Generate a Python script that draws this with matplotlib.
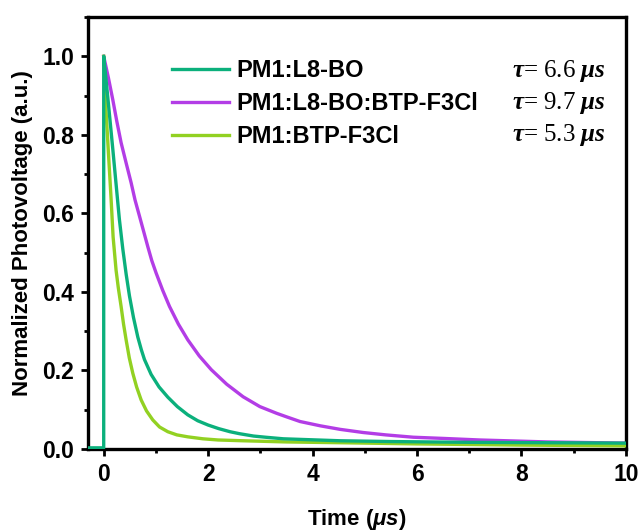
import matplotlib
matplotlib.use("Agg")
import matplotlib.pyplot as plt
from matplotlib.ticker import MultipleLocator

# --- Data (time in us, normalized photovoltage) ---
labels = ["PM1:L8-BO", "PM1:L8-BO:BTP-F3Cl", "PM1:BTP-F3Cl"]
taus = ["6.6", "9.7", "5.3"]
colors = ["#0bb07c", "#b33de6", "#92d122"]

t_l8bo = [-0.3, 0, 0, 0.06, 0.115, 0.173, 0.24, 0.30, 0.365, 0.43, 0.493,
          0.57, 0.653, 0.72, 0.78, 0.908, 1.06, 1.228, 1.41, 1.61, 1.8, 2.0,
          2.2, 2.42, 2.6, 2.87, 3.1, 3.44, 4.53, 5.5, 7.0, 8.5, 10]
v_l8bo = [0.003, 0.003, 1.0, 0.92, 0.845, 0.765, 0.67, 0.585, 0.51, 0.445,
          0.39, 0.335, 0.285, 0.253, 0.228, 0.19, 0.158, 0.132, 0.108, 0.087,
          0.072, 0.061, 0.052, 0.044, 0.039, 0.033, 0.030, 0.026, 0.021,
          0.019, 0.017, 0.016, 0.015]

t_ternary = [0, 0.09, 0.173, 0.25, 0.333, 0.43, 0.525, 0.6, 0.685, 0.845,
             0.92, 1.004, 1.13, 1.26, 1.43, 1.61, 1.83, 2.06, 2.355, 2.67,
             2.99, 3.31, 3.5, 3.76, 4.15, 4.53, 4.97, 5.4, 5.93, 6.5, 7.2,
             8.5, 10]
v_ternary = [1.0, 0.945, 0.89, 0.835, 0.78, 0.728, 0.678, 0.634, 0.593,
             0.515, 0.48, 0.448, 0.404, 0.363, 0.318, 0.278, 0.237, 0.202,
             0.165, 0.133, 0.108, 0.091, 0.082, 0.070, 0.059, 0.050, 0.042,
             0.036, 0.030, 0.027, 0.023, 0.018, 0.015]

t_btp = [0, 0.045, 0.09, 0.14, 0.18, 0.237, 0.28, 0.333, 0.38, 0.429, 0.49,
         0.557, 0.63, 0.717, 0.82, 0.94, 1.07, 1.228, 1.4, 1.61, 1.9, 2.19,
         2.67, 3.5, 4.53, 6.0, 8.0, 10]
v_btp = [1.0, 0.86, 0.755, 0.64, 0.54, 0.455, 0.41, 0.363, 0.318, 0.278,
         0.232, 0.193, 0.158, 0.125, 0.097, 0.074, 0.056, 0.044, 0.036,
         0.031, 0.026, 0.023, 0.021, 0.018, 0.016, 0.013, 0.010, 0.008]

plt.rcParams["font.family"] = "Liberation Sans"
plt.rcParams["font.weight"] = "bold"
plt.rcParams["mathtext.fontset"] = "custom"
plt.rcParams["mathtext.rm"] = "Liberation Serif"
plt.rcParams["mathtext.it"] = "Liberation Serif:italic"
plt.rcParams["mathtext.sf"] = "Liberation Sans:italic:bold"

fig = plt.figure(figsize=(6.38, 5.31), dpi=100)
ax = fig.add_axes([0.138, 0.1544, 0.843, 0.8136])

series = [(t_l8bo, v_l8bo), (t_ternary, v_ternary), (t_btp, v_btp)]
zorders = [4, 2, 3]
handles = []
for (t, v), lab, c, z in zip(series, labels, colors, zorders):
    h, = ax.plot(t, v, color=c, lw=2.4, label=lab, zorder=z,
                 solid_joinstyle="round")
    handles.append(h)

ax.set_xlim(-0.3, 10)
ax.set_ylim(0, 1.1)
ax.xaxis.set_major_locator(MultipleLocator(2))
ax.xaxis.set_minor_locator(MultipleLocator(1))
ax.yaxis.set_major_locator(MultipleLocator(0.2))
ax.yaxis.set_minor_locator(MultipleLocator(0.1))
ax.yaxis.set_major_formatter(lambda y, pos: f"{y:.1f}")

for s in ax.spines.values():
    s.set_linewidth(2.4)
ax.tick_params(which="major", length=5, width=2, labelsize=16.5, pad=5)
ax.tick_params(which="minor", length=3, width=2)

ax.set_xlabel(r"Time ($\mathsf{\mu s}$)", fontsize=16, fontweight="bold",
              labelpad=15)
ax.set_ylabel("Normalized Photovoltage (a.u.)", fontsize=16,
              fontweight="bold", labelpad=7)

leg = ax.legend(handles=handles, loc="upper left",
                bbox_to_anchor=(0.117, 0.952), frameon=False, fontsize=17,
                handlelength=2.4, handletextpad=0.3, labelspacing=0.42)

for i, tau in enumerate(taus):
    ax.text(0.963, 0.876 - i * 0.074, rf"$\tau$= {tau} $\mu s$",
            transform=ax.transAxes, ha="right", va="center", fontsize=18,
            family="Liberation Serif", fontweight="normal")

fig.savefig("out.png", dpi=100)
